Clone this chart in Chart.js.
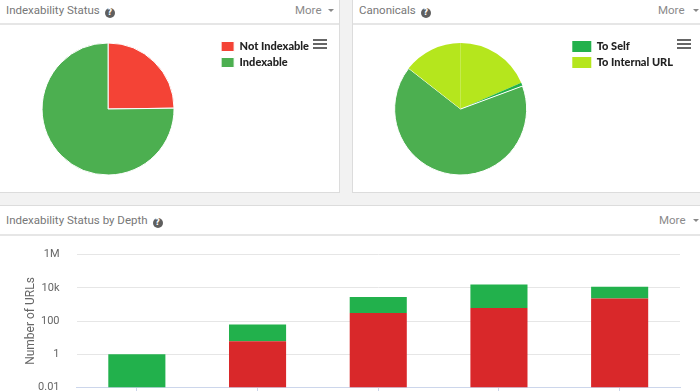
<!DOCTYPE html>
<html>
<head>
<meta charset="utf-8">
<script src="https://cdn.jsdelivr.net/npm/chart.js@4/dist/chart.umd.min.js"></script>
<style>
  html, body { margin: 0; padding: 0; width: 700px; height: 391px; overflow: hidden; background: #f2f2f2; font-family: Roboto, "Open Sans", sans-serif; }
  .panel { position: absolute; background: #fff; border: 1px solid #dcdcdc; box-sizing: border-box; }
  .hdr { position: absolute; left: 0; right: 0; top: 0; height: 30px; border-bottom: 2px solid #e6e6e6; box-sizing: border-box; }
  .title { position: absolute; left: 5px; top: 7px; font-size: 11.5px; color: #777; white-space: nowrap; line-height: 16px; }
  .q { display: inline-block; width: 10px; height: 10px; border-radius: 50%; background: #5f5f5f; color: #fff; font-size: 8px; font-weight: bold; line-height: 10px; text-align: center; vertical-align: -1px; margin-left: 5px; font-family: "DejaVu Sans", sans-serif; }
  .more { position: absolute; top: 7px; font-size: 11.5px; color: #8a8a8a; line-height: 16px; }
  .caret { position: absolute; top: 14px; width: 0; height: 0; border-left: 3px solid transparent; border-right: 3px solid transparent; border-top: 3px solid #888; }
  .burger { position: absolute; width: 14px; height: 10px; }
  .burger div { height: 2px; background: #666; margin-bottom: 2px; }
  canvas { position: absolute; }
</style>
</head>
<body>
<div class="panel" style="left:-1px; top:-6px; width:341px; height:199px;">
  <div class="hdr" style="top:0;"><div class="title" style="left:6px; top:7px;">Indexability Status<span class="q">?</span></div>
  <div class="more" style="left:295px; top:7px;">More</div><div class="caret" style="left:328px; top:14px;"></div></div>
</div>
<div class="panel" style="left:352px; top:-6px; width:360px; height:199px;">
  <div class="hdr"><div class="title" style="left:6px; top:7px;">Canonicals<span class="q">?</span></div>
  <div class="more" style="left:305px; top:7px;">More</div><div class="caret" style="left:340px; top:14px;"></div></div>
</div>
<div class="panel" style="left:-1px; top:205px; width:720px; height:200px;">
  <div class="hdr"><div class="title" style="left:6px; top:6px;">Indexability Status by Depth<span class="q">?</span></div>
  <div class="more" style="left:659px; top:6px;">More</div><div class="caret" style="left:693px; top:13px;"></div></div>
</div>
<div class="burger" style="left:313px; top:39px;"><div></div><div></div><div></div></div>
<div class="burger" style="left:677px; top:39px;"><div></div><div></div><div></div></div>

<canvas id="pie1" width="338" height="165" style="left:0px; top:26px; width:338px; height:165px;"></canvas>
<canvas id="pie2" width="346" height="165" style="left:353px; top:26px; width:346px; height:165px;"></canvas>
<canvas id="bars" width="700" height="180" style="left:0px; top:231px; width:700px; height:180px;"></canvas>

<script>
// ---- Data ----
const indexabilityLabels = ['Not Indexable', 'Indexable'];
const indexabilityValues = [24.8, 75.2];

const canonicalLegendLabels = ['To Self', 'To Internal URL'];
// slices as drawn, clockwise from 12 o'clock
const canonicalSliceLabels = ['To Internal URL', 'To Self', 'Other', 'To Internal URL'];
const canonicalSliceValues = [66.6, 3.0, 238.4, 52.0];

const depthLabels = ['0', '1', '2', '3', '4'];
const notIndexableByDepth = [null, 6, 305, 605, 2290];
const indexableByDepth = [1, 56, 2450, 15200, 9200];

const yTickValues = [0.01, 1, 100, 10000, 1000000];
const yTickLabels = ['0.01', '1', '100', '10k', '1M'];

// ---- Styles ----
const RED_PIE = '#f44336', GREEN_PIE = '#4caf50';
const DARK_GREEN = '#22b14c', LIME = '#b5e61d';
const RED_BAR = '#d9282a', GREEN_BAR = '#22b14c';
const legendFont = { family: 'Lato, "Liberation Sans", sans-serif', size: 11, weight: '900' };

Chart.defaults.animation = false;

new Chart(document.getElementById('pie1'), {
  type: 'pie',
  data: {
    labels: indexabilityLabels,
    datasets: [{
      data: indexabilityValues,
      backgroundColor: [RED_PIE, GREEN_PIE],
      borderColor: '#fff',
      borderWidth: 1,
      radius: 66
    }]
  },
  options: {
    responsive: false,
    layout: { padding: { left: 0, right: 19, top: 10, bottom: 9 } },
    plugins: {
      tooltip: { enabled: false },
      legend: {
        position: 'right', align: 'start',
        labels: { boxWidth: 13, boxHeight: 10, padding: 5, color: '#222', font: legendFont }
      }
    }
  }
});

new Chart(document.getElementById('pie2'), {
  type: 'pie',
  data: {
    labels: canonicalSliceLabels,
    datasets: [{
      data: canonicalSliceValues,
      backgroundColor: [LIME, DARK_GREEN, GREEN_PIE, LIME],
      borderColor: '#fff',
      borderWidth: [0, 0, 1, 0],
      radius: 66
    }]
  },
  options: {
    responsive: false,
    layout: { padding: { left: 1, right: 16, top: 10, bottom: 9 } },
    plugins: {
      tooltip: { enabled: false },
      legend: {
        position: 'right', align: 'start',
        onClick: null,
        labels: {
          boxWidth: 19, boxHeight: 11, padding: 5, color: '#222', font: legendFont,
          generateLabels: () => canonicalLegendLabels.map((t, i) => ({
            text: t, fillStyle: [DARK_GREEN, LIME][i], strokeStyle: [DARK_GREEN, LIME][i],
            lineWidth: 0, hidden: false, index: i, fontColor: '#222'
          }))
        }
      }
    }
  }
});

new Chart(document.getElementById('bars'), {
  type: 'bar',
  data: {
    labels: depthLabels,
    datasets: [
      { label: 'Not Indexable', data: notIndexableByDepth, backgroundColor: RED_BAR, stack: 's' },
      { label: 'Indexable', data: indexableByDepth, backgroundColor: GREEN_BAR, stack: 's' }
    ]
  },
  options: {
    responsive: false,
    layout: { padding: { left: 0, right: 20, top: 11, bottom: 8 } },
    datasets: { bar: { barPercentage: 0.473, categoryPercentage: 1 } },
    plugins: { legend: { display: false }, tooltip: { enabled: false } },
    scales: {
      x: {
        stacked: true,
        grid: { display: true, drawOnChartArea: false, drawTicks: true, tickLength: 5, offset: false, color: '#ccd6eb' },
        border: { display: true, color: '#ccd6eb', width: 1 },
        ticks: { display: false }
      },
      y: {
        type: 'logarithmic',
        stacked: true,
        min: 0.01, max: 1000000,
        afterBuildTicks: (scale) => { scale.ticks = yTickValues.map(v => ({ value: v })); },
        afterFit: (scale) => { scale.width = 76.5; },
        grid: { color: '#e6e6e6', drawTicks: false },
        border: { display: false },
        ticks: {
          padding: 17, color: '#666',
          font: { family: 'Roboto, sans-serif', size: 11 },
          callback: (v) => { const i = yTickValues.indexOf(v); return i >= 0 ? yTickLabels[i] : ''; }
        },
        title: {
          display: true, text: 'Number of URLs', color: '#666',
          font: { family: 'Roboto, sans-serif', size: 12 },
          padding: { top: 24, bottom: 0 }
        }
      }
    }
  }
});
</script>
</body>
</html>
